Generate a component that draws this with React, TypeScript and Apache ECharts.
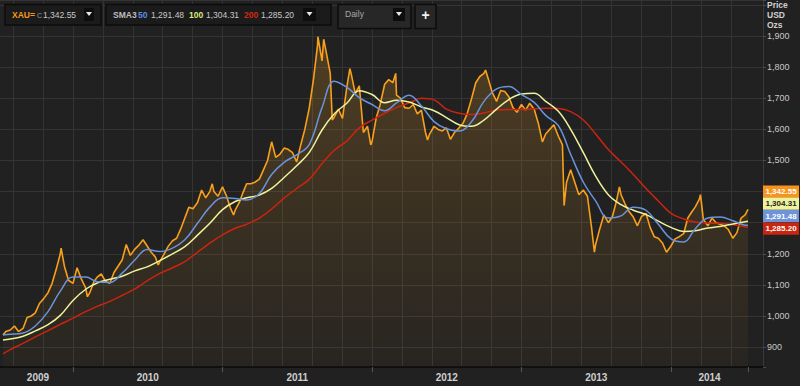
import React, { useEffect, useRef } from "react";
import * as echarts from "echarts";

// ---- data ----
const priceDates = [
  "2009-07-14","2009-07-21","2009-08-01","2009-08-11","2009-08-21","2009-09-01","2009-09-11","2009-09-21",
  "2009-10-01","2009-10-11","2009-10-21","2009-11-01","2009-11-11","2009-11-21","2009-12-01","2009-12-03",
  "2009-12-11","2009-12-21",
  "2010-01-01","2010-01-11","2010-01-21","2010-02-01","2010-02-05","2010-02-11","2010-02-21","2010-03-01",
  "2010-03-11","2010-03-21","2010-04-01","2010-04-11","2010-04-21","2010-05-01","2010-05-11","2010-05-21",
  "2010-06-01","2010-06-11","2010-06-21","2010-07-01","2010-07-11","2010-07-21","2010-07-28","2010-08-01",
  "2010-08-11","2010-08-21","2010-09-01","2010-09-11","2010-09-21","2010-10-01","2010-10-11","2010-10-21",
  "2010-11-01","2010-11-11","2010-11-21","2010-12-01","2010-12-07","2010-12-11","2010-12-21",
  "2011-01-01","2011-01-11","2011-01-21","2011-01-28","2011-02-01","2011-02-11","2011-02-21","2011-03-01",
  "2011-03-11","2011-03-21","2011-04-01","2011-04-11","2011-04-21","2011-05-01","2011-05-11","2011-05-21",
  "2011-06-01","2011-06-11","2011-06-21","2011-07-01","2011-07-11","2011-07-21","2011-08-01","2011-08-11",
  "2011-08-21","2011-08-22","2011-09-01","2011-09-05","2011-09-11","2011-09-21","2011-09-26","2011-10-01",
  "2011-10-11","2011-10-21","2011-11-01","2011-11-08","2011-11-11","2011-11-21","2011-12-01","2011-12-11",
  "2011-12-21","2011-12-29",
  "2012-01-01","2012-01-11","2012-01-21","2012-02-01","2012-02-11","2012-02-21","2012-02-28","2012-03-01",
  "2012-03-11","2012-03-21","2012-04-01","2012-04-11","2012-04-21","2012-05-01","2012-05-11","2012-05-16",
  "2012-05-21","2012-06-01","2012-06-11","2012-06-21","2012-07-01","2012-07-11","2012-07-21","2012-08-01",
  "2012-08-11","2012-08-21","2012-09-01","2012-09-11","2012-09-21","2012-10-01","2012-10-05","2012-10-11",
  "2012-10-21","2012-11-01","2012-11-11","2012-11-21","2012-12-01","2012-12-11","2012-12-21",
  "2013-01-01","2013-01-11","2013-01-21","2013-02-01","2013-02-11","2013-02-21","2013-03-01","2013-03-11",
  "2013-03-21","2013-04-01","2013-04-11","2013-04-15","2013-04-21","2013-05-01","2013-05-11","2013-05-21",
  "2013-06-01","2013-06-11","2013-06-21","2013-06-28","2013-07-01","2013-07-11","2013-07-21","2013-08-01",
  "2013-08-11","2013-08-21","2013-08-28","2013-09-01","2013-09-11","2013-09-21","2013-10-01","2013-10-11",
  "2013-10-21","2013-11-01","2013-11-11","2013-11-21","2013-12-01","2013-12-11","2013-12-21",
  "2014-01-01","2014-01-11","2014-01-21","2014-02-01","2014-02-11","2014-02-21","2014-03-01","2014-03-11",
  "2014-03-14","2014-03-21","2014-04-01","2014-04-11","2014-04-21","2014-05-01","2014-05-11","2014-05-21",
  "2014-06-01","2014-06-11","2014-06-21","2014-07-01","2014-07-08",
];
const priceValues = [
  939, 950, 955, 968, 950, 960, 995, 1000,
  1010, 1040, 1055, 1075, 1105, 1150, 1200, 1218,
  1160, 1115,
  1105, 1155, 1120, 1090, 1062, 1075, 1110, 1125,
  1135, 1112, 1105, 1140, 1160, 1180, 1230, 1195,
  1215, 1228, 1245, 1225, 1205, 1190, 1164, 1175,
  1198, 1223, 1242, 1250, 1280, 1315, 1350, 1345,
  1365, 1405, 1380, 1400, 1425, 1400, 1385,
  1415, 1385, 1345, 1325, 1340, 1365, 1400, 1425,
  1425, 1430, 1440, 1470, 1500, 1560, 1510, 1520,
  1540, 1535, 1525, 1495, 1550, 1600, 1670, 1760,
  1870, 1898, 1820, 1890, 1850, 1780, 1630, 1640,
  1665, 1635, 1740, 1795, 1780, 1716, 1740, 1590,
  1610, 1550,
  1560, 1635, 1680, 1745, 1760, 1750, 1780, 1710,
  1700, 1670, 1668, 1680, 1650, 1662, 1590, 1566,
  1585, 1610, 1600, 1595, 1605, 1568, 1590, 1605,
  1620, 1650, 1700, 1750, 1770, 1780, 1791, 1765,
  1720, 1690, 1725, 1722, 1705, 1670, 1655,
  1680, 1662, 1684, 1665, 1620, 1560, 1585, 1600,
  1615, 1578, 1550, 1355, 1430, 1470, 1430, 1390,
  1405, 1385, 1285, 1205, 1230, 1280, 1325, 1300,
  1320, 1370, 1415, 1390, 1360, 1335, 1318, 1290,
  1320, 1330, 1285, 1255, 1250, 1235, 1205,
  1225, 1248, 1255, 1265, 1315, 1335, 1350, 1375,
  1390, 1310, 1290, 1315, 1300, 1295, 1290, 1278,
  1250, 1268, 1315, 1325, 1342.55,
];

const smaDates = [
  "2009-07-14","2009-08-01","2009-09-01","2009-10-01","2009-11-01","2009-12-01",
  "2010-01-01","2010-02-01","2010-03-01","2010-04-01","2010-05-01","2010-06-01",
  "2010-07-01","2010-08-01","2010-09-01","2010-10-01","2010-11-01","2010-12-01",
  "2011-01-01","2011-02-01","2011-03-01","2011-04-01","2011-05-01","2011-06-01",
  "2011-07-01","2011-08-01","2011-09-01","2011-10-01","2011-11-01","2011-12-01",
  "2012-01-01","2012-02-01","2012-03-01","2012-04-01","2012-05-01","2012-06-01",
  "2012-07-01","2012-08-01","2012-09-01","2012-10-01","2012-11-01","2012-12-01",
  "2013-01-01","2013-02-01","2013-03-01","2013-04-01","2013-05-01","2013-06-01",
  "2013-07-01","2013-08-01","2013-09-01","2013-10-01","2013-11-01","2013-12-01",
  "2014-01-01","2014-02-01","2014-03-01","2014-04-01","2014-05-01","2014-06-01",
  "2014-07-01","2014-07-08",
];
const sma50 = [
  939, 941, 945, 968, 1014, 1080,
  1125, 1125, 1110, 1108, 1138, 1180, 1214, 1207, 1218, 1245, 1298, 1350,
  1380, 1378, 1373, 1394, 1455, 1495, 1518, 1552, 1670, 1755, 1735, 1702,
  1680, 1660, 1685, 1710, 1675, 1625, 1602, 1595, 1625, 1690, 1730, 1738,
  1712, 1687, 1645, 1612, 1520, 1430, 1370, 1315, 1322, 1350, 1340, 1295,
  1248, 1238, 1280, 1315, 1318, 1306, 1292, 1291.48,
];
const sma100 = [
  923, 926, 935, 952, 972, 1002,
  1050, 1086, 1106, 1118, 1128, 1145, 1158, 1178, 1200, 1223, 1260, 1298,
  1342, 1368, 1380, 1389, 1410, 1446, 1483, 1526, 1598, 1650, 1685, 1724,
  1712, 1686, 1694, 1688, 1672, 1660, 1638, 1615, 1610, 1630, 1665, 1696,
  1714, 1716, 1690, 1658, 1600, 1525, 1450, 1390, 1358, 1340, 1326, 1305,
  1285, 1272, 1274, 1283, 1288, 1296, 1303, 1304.31,
];
const sma200 = [
  878, 892, 912, 933, 953, 973,
  993, 1014, 1031, 1047, 1066, 1087, 1113, 1137, 1155, 1175, 1205, 1234,
  1261, 1282, 1295, 1315, 1344, 1380, 1410, 1440, 1490, 1533, 1563, 1605,
  1630, 1652, 1670, 1685, 1700, 1695, 1665, 1652, 1648, 1653, 1662, 1664,
  1664, 1666, 1668, 1667, 1657, 1630, 1585, 1535, 1495, 1455, 1410, 1370,
  1330, 1312, 1302, 1299, 1298, 1293, 1287, 1285.2,
];

const years = [2009, 2010, 2011, 2012, 2013, 2014];
// the 1,300 and 1,400 labels sit under the last-value tags in the reference
const yTickLabels = [900, 1000, 1100, 1200, 1500, 1600, 1700, 1800, 1900];

// ---- helpers ----
function toYear(s: string): number {
  const [Y, m, d] = s.split("-").map(Number);
  const a = Date.UTC(Y, 0, 1);
  const b = Date.UTC(Y + 1, 0, 1);
  return Y + (Date.UTC(Y, m - 1, d) - a) / (b - a);
}
const fmt = (v: number) =>
  v.toLocaleString("en-US", { minimumFractionDigits: 2, maximumFractionDigits: 2 });
const fmtInt = (v: number) => v.toLocaleString("en-US");

const FONT = "'Liberation Sans', Arial, sans-serif";
const C_PRICE = "#f8a01c";
const C_50 = "#6a93dc";
const C_100 = "#eef39c";
const C_200 = "#cc240f";

export default function App() {
  const ref = useRef<HTMLDivElement>(null);

  useEffect(() => {
    if (!ref.current) return;
    const chart = echarts.init(ref.current, null, { renderer: "svg" });

    const xStart = toYear(priceDates[0]);
    const xEnd = toYear(priceDates[priceDates.length - 1]);
    const pxPerYear = 149.5;
    const xMin = 2010 - 73 / pxPerYear;
    const xMax = xMin + 763 / pxPerYear;

    const labelPos = years.map((y) => (Math.max(y, xStart) + Math.min(y + 1, xEnd)) / 2);
    const yearTicks = [...years.filter((y) => y > xStart), xEnd];
    const gridVals: number[] = [];
    for (let y = 2009; y <= 2014; y++) {
      for (let k = 0; k < 5; k++) {
        const v = y + k / 5;
        if (v > xMin + 0.01 && v < xMax - 0.05) gridVals.push(v);
      }
    }

    const last = {
      p: priceValues[priceValues.length - 1],
      a: sma50[sma50.length - 1],
      b: sma100[sma100.length - 1],
      c: sma200[sma200.length - 1],
    };

    const text = (t: string, x: number, y: number, fill: string, font: string, align = "left") => ({
      type: "text",
      x,
      y,
      silent: true,
      z: 100,
      style: { text: t, fill, font, textAlign: align, textVerticalAlign: "middle" },
    });
    const rect = (x: number, y: number, w: number, h: number, fill: string, stroke?: string) => ({
      type: "rect",
      shape: { x, y, width: w, height: h },
      silent: true,
      z: 99,
      style: stroke ? { fill, stroke, lineWidth: 1.5 } : { fill },
    });
    const tri = (cx: number, cy: number) => ({
      type: "polygon",
      silent: true,
      z: 101,
      shape: { points: [[cx - 3, cy - 2], [cx + 3, cy - 2], [cx, cy + 2]] },
      style: { fill: "#e8e8e8" },
    });

    const tagY = [185.5, 197.5, 210, 222.5];
    const tags = [
      { v: last.p, bg: "#f7941d", fg: "#ffffff" },
      { v: last.b, bg: "#eef29c", fg: "#222222" },
      { v: last.a, bg: "#6f93d8", fg: "#ffffff" },
      { v: last.c, bg: "#c9250f", fg: "#ffffff" },
    ];

    const F_B = `bold 8.5px ${FONT}`;
    const F_R = `8.5px ${FONT}`;
    const graphic: any[] = [
      // toolbar
      rect(5, 4.5, 96, 20.5, "#1b1b1b", "#0c0c0c"),
      text("XAU=", 12, 14.5, "#f39a1c", F_B),
      text("C", 37, 15, "#9a9a9a", `7px ${FONT}`),
      text(fmt(last.p), 43, 14.5, "#c8c8c8", F_R),
      rect(84, 8, 10, 13, "#0d0d0d"),
      tri(89, 14),
      rect(106, 4.5, 225, 20.5, "#1b1b1b", "#0c0c0c"),
      text("SMA3", 113, 14.5, "#bdbdbd", F_B),
      text("50", 138, 14.5, "#5b8fe6", F_B),
      text(fmt(last.a), 151, 14.5, "#c8c8c8", F_R),
      text("100", 189, 14.5, "#dde97a", F_B),
      text(fmt(last.b), 206, 14.5, "#c8c8c8", F_R),
      text("200", 244, 14.5, "#d32a10", F_B),
      text(fmt(last.c), 261, 14.5, "#c8c8c8", F_R),
      rect(303, 8, 13, 13, "#0d0d0d"),
      tri(309.5, 14),
      rect(338, 4.5, 73, 24, "#272727", "#0c0c0c"),
      text("Daily", 345, 14, "#a8a8a8", F_R),
      rect(393, 8, 12, 13, "#0d0d0d"),
      tri(399, 14),
      rect(415, 4.5, 21, 24, "#272727", "#0c0c0c"),
      text("+", 425.5, 14.5, "#f0f0f0", `bold 14px ${FONT}`, "center"),
      // unit label
      text("Price", 767, 5, "#d0d0d0", `bold 8.5px ${FONT}`),
      text("USD", 767, 15, "#d0d0d0", `bold 8.5px ${FONT}`),
      text("Ozs", 767, 25, "#d0d0d0", `bold 8.5px ${FONT}`),
    ];
    tags.forEach((t, i) => {
      graphic.push(rect(763, tagY[i], 36, 12.2, t.bg));
      graphic.push(text(fmt(t.v), 781, tagY[i] + 6.3, t.fg, `bold 8px ${FONT}`, "center"));
    });

    const toPairs = (dates: string[], vals: number[]) => dates.map((d, i) => [toYear(d), vals[i]]);

    chart.setOption({
      animation: false,
      backgroundColor: "#212121",
      grid: { left: 0, right: 37, top: 0, bottom: 19, containLabel: false },
      xAxis: [
        {
          type: "value",
          min: xMin,
          max: xMax,
          position: "bottom",
          axisLine: { show: true, lineStyle: { color: "#0e0e0e", width: 2 } },
          axisTick: { show: true, customValues: yearTicks, length: 5, lineStyle: { color: "#555" } },
          axisLabel: {
            show: true,
            customValues: labelPos,
            formatter: (v: number) => String(Math.floor(v)),
            color: "#cfcfcf",
            fontSize: 10,
            fontWeight: "bold",
            fontFamily: FONT,
            margin: 5,
          },
          splitLine: { show: false },
        },
        {
          type: "value",
          min: xMin,
          max: xMax,
          position: "bottom",
          axisLine: { show: false },
          axisTick: { show: false, customValues: gridVals },
          axisLabel: { show: false },
          splitLine: { show: true, lineStyle: { color: "#343434", width: 1 } },
        },
      ],
      yAxis: {
        type: "value",
        position: "right",
        min: 836,
        max: 2016,
        minInterval: 100,
        maxInterval: 100,
        axisLine: { show: true, lineStyle: { color: "#3a3a3a" } },
        axisTick: { show: true, length: 3, lineStyle: { color: "#4a4a4a" } },
        axisLabel: {
          color: "#c8c8c8",
          fontSize: 9,
          fontFamily: FONT,
          margin: 4,
          formatter: (v: number) => (yTickLabels.includes(v) ? fmtInt(v) : ""),
        },
        splitLine: { show: true, lineStyle: { color: "#343434", width: 1 } },
      },
      graphic,
      series: [
        {
          name: "XAU=",
          type: "line",
          xAxisIndex: 0,
          data: toPairs(priceDates, priceValues),
          showSymbol: false,
          symbol: "none",
          lineStyle: { color: C_PRICE, width: 1.6 },
          areaStyle: {
            origin: "start",
            color: new echarts.graphic.LinearGradient(0, 0, 0, 1, [
              { offset: 0, color: "rgba(255,170,40,0.30)" },
              { offset: 1, color: "rgba(255,170,40,0.04)" },
            ]),
          },
          z: 3,
        },
        {
          name: "SMA 200",
          type: "line",
          data: toPairs(smaDates, sma200),
          showSymbol: false,
          symbol: "none",
          smooth: 0.4,
          lineStyle: { color: C_200, width: 1.5 },
          z: 4,
        },
        {
          name: "SMA 100",
          type: "line",
          data: toPairs(smaDates, sma100),
          showSymbol: false,
          symbol: "none",
          smooth: 0.4,
          lineStyle: { color: C_100, width: 1.5 },
          z: 5,
        },
        {
          name: "SMA 50",
          type: "line",
          data: toPairs(smaDates, sma50),
          showSymbol: false,
          symbol: "none",
          smooth: 0.4,
          lineStyle: { color: C_50, width: 1.5 },
          z: 6,
        },
      ],
    });

    return () => chart.dispose();
  }, []);

  return (
    <div
      ref={ref}
      style={{ position: "fixed", left: 0, top: 0, width: 800, height: 386 }}
    />
  );
}
